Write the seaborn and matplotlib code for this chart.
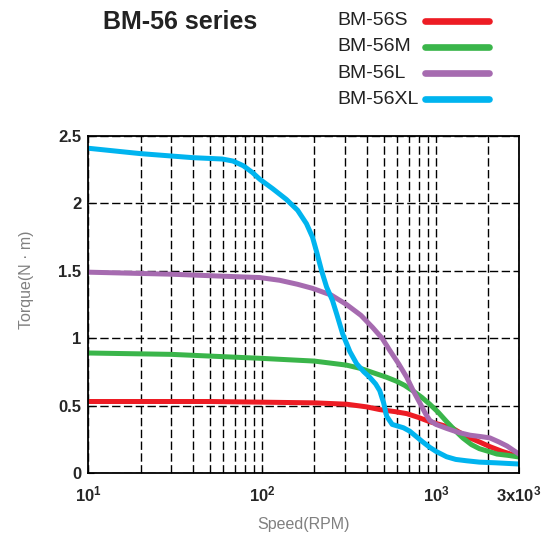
import pandas as pd
import matplotlib.pyplot as plt
import seaborn as sns
from matplotlib.lines import Line2D
from matplotlib.ticker import FixedLocator, LogLocator, NullFormatter

# Torque curves (speed in RPM, torque in N·m)
s_speed = [10, 50, 100, 200, 306, 400, 475, 580, 679, 800, 921, 1080, 1250, 1500, 1776, 2040, 2400, 3000]
s_torque = [0.53, 0.53, 0.525, 0.52, 0.51, 0.49, 0.47, 0.455, 0.44, 0.41, 0.38, 0.355, 0.33, 0.27, 0.23, 0.195, 0.16, 0.12]

m_speed = [10, 30, 100, 200, 306, 370, 432, 520, 594, 660, 735, 830, 921, 1030, 1153, 1300, 1425, 1600, 1776, 2000, 2240, 2600, 3000]
m_torque = [0.89, 0.88, 0.85, 0.83, 0.80, 0.775, 0.745, 0.71, 0.68, 0.65, 0.61, 0.56, 0.51, 0.45, 0.38, 0.31, 0.26, 0.21, 0.18, 0.16, 0.14, 0.13, 0.118]

l_speed = [10, 30, 60, 97, 126, 160, 195, 250, 306, 370, 432, 490, 542, 610, 679, 740, 807, 870, 921, 1000, 1153, 1350, 1567, 1800, 2040, 2300, 2560, 3000]
l_torque = [1.49, 1.475, 1.46, 1.45, 1.43, 1.40, 1.37, 1.32, 1.25, 1.17, 1.08, 1.00, 0.91, 0.81, 0.71, 0.61, 0.52, 0.44, 0.39, 0.36, 0.33, 0.30, 0.28, 0.27, 0.26, 0.23, 0.20, 0.14]

xl_speed = [10, 20, 40, 59, 68, 78, 88, 97, 115, 138, 160, 180, 195, 206, 220, 235, 254, 270, 291, 320, 350, 385, 416, 450, 475, 500, 521, 560, 594, 650, 706, 770, 839, 921, 1000, 1150, 1300, 1500, 1776, 2200, 3000]
xl_torque = [2.41, 2.37, 2.34, 2.33, 2.315, 2.28, 2.23, 2.18, 2.11, 2.03, 1.95, 1.85, 1.75, 1.64, 1.50, 1.38, 1.28, 1.17, 1.03, 0.90, 0.81, 0.75, 0.71, 0.66, 0.61, 0.52, 0.42, 0.36, 0.35, 0.335, 0.31, 0.27, 0.23, 0.19, 0.16, 0.12, 0.10, 0.09, 0.08, 0.075, 0.066]

models = ["BM-56S", "BM-56M", "BM-56L", "BM-56XL"]
colors = ["#ed1c24", "#3ab54a", "#a66bb0", "#00b4ef"]

x_ticks = [10, 100, 1000, 3000]
x_labels = ["$10^{1}$", "$10^{2}$", "$10^{3}$", r"$\mathrm{3x10^{3}}$"]
y_ticks = [0, 0.5, 1, 1.5, 2, 2.5]
y_labels = ["0", "0.5", "1", "1.5", "2", "2.5"]

frames = []
for name, sp, tq in zip(models, [s_speed, m_speed, l_speed, xl_speed],
                        [s_torque, m_torque, l_torque, xl_torque]):
    frames.append(pd.DataFrame({"Speed": sp, "Torque": tq, "Model": name}))
df = pd.concat(frames, ignore_index=True)

sns.set_style("ticks")
plt.rcParams["font.family"] = ["Liberation Sans", "DejaVu Sans"]
plt.rcParams["mathtext.fontset"] = "custom"
plt.rcParams["mathtext.rm"] = "Liberation Sans:bold"
plt.rcParams["mathtext.default"] = "rm"

fig = plt.figure(figsize=(5.58, 5.38), dpi=100)
ax = fig.add_axes([0.158, 0.121, 0.772, 0.626])
ax.set_xscale("log")

sns.lineplot(data=df, x="Speed", y="Torque", hue="Model", hue_order=models,
             palette=dict(zip(models, colors)), estimator=None, sort=False,
             linewidth=3.6, legend=False, ax=ax)

ax.set_xlim(10, 3000)
ax.set_ylim(0, 2.5)
ax.xaxis.set_major_locator(FixedLocator(x_ticks))
ax.xaxis.set_minor_locator(LogLocator(base=10, subs=range(2, 10)))
ax.xaxis.set_minor_formatter(NullFormatter())
ax.set_xticks(x_ticks)
ax.set_xticklabels(x_labels)
ax.set_yticks(y_ticks)
ax.set_yticklabels(y_labels)

grid_kw = dict(color="black", linestyle=(0, (6, 2.5)), linewidth=1.0)
ax.grid(True, which="both", axis="x", **grid_kw)
ax.grid(True, which="major", axis="y", **grid_kw)
ax.set_axisbelow(True)

for sp in ax.spines.values():
    sp.set_visible(True)
    sp.set_color("black")
    sp.set_linewidth(1.3)

ax.tick_params(axis="both", which="both", direction="in", length=4, color="black")
ax.tick_params(axis="y", pad=5, labelsize=12)
ax.tick_params(axis="x", pad=8, labelsize=12)
for lab in ax.get_yticklabels():
    lab.set_fontweight("bold")

ax.set_xlabel("Speed(RPM)", fontsize=11.5, color="#808080")
ax.set_ylabel("Torque(N · m)", fontsize=11.5, color="#808080")
ax.xaxis.set_label_coords(0.5, -0.13)
ax.yaxis.set_label_coords(-0.125, 0.573)

fig.text(0.323, 0.96, "BM-56 series", fontsize=18, fontweight="bold",
         ha="center", va="center", color="#222222")

# legend: label on the left, swatch on the right
for i, (name, c) in enumerate(zip(models, colors)):
    yy = 1 - (20.5 + 26.3 * i) / 538
    fig.text(337 / 558, yy, name, fontsize=14, ha="left", va="center", color="#222222")
    fig.add_artist(Line2D([425 / 558, 489 / 558], [yy, yy], color=c,
                          linewidth=4.8, transform=fig.transFigure))

fig.savefig("out.png", dpi=100)
